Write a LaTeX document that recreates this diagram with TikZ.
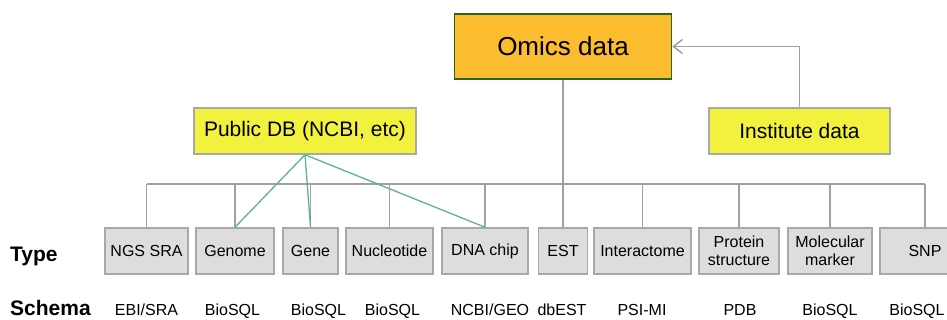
\documentclass[tikz,border=0pt]{standalone}
\usepackage{fontspec}
\setmainfont{Liberation Sans}
\usetikzlibrary{
  arrows.meta
  }

\definecolor{omicsfill}{HTML}{FBBC30}
\definecolor{omicsline}{HTML}{1E6B1E}
\definecolor{dbfill}{HTML}{F2F23E}
\definecolor{boxfill}{HTML}{DDDDDD}
\definecolor{boxline}{HTML}{A8A8A8}
\definecolor{wire}{HTML}{A0A0A0}
\definecolor{link}{HTML}{5DB391}

\begin{document}
\begin{tikzpicture}[x=1pt, y=-1pt]
  \tikzstyle{every node}=[font=\fontsize{16}{18}\selectfont, inner sep=2pt]
  \tikzstyle{typebox}=[draw=boxline, fill=boxfill, line width=1.5pt,
    minimum height=46pt, align=center]
  \tikzstyle{srcbox}=[draw=boxline, fill=dbfill, line width=1.5pt,
    minimum height=46pt, font=\fontsize{21}{24}\selectfont]
  \tikzstyle{wireline}=[draw=wire, line width=1.5pt]
  \useasboundingbox (0,0) rectangle (947,320);
  %
  \node[draw=omicsline, fill=omicsfill, line width=1.5pt, minimum width=217pt,
    minimum height=65pt, font=\fontsize{26}{30}\selectfont] (omics) at (563,46.5) {Omics data};
  \node[srcbox, minimum width=222pt] (public) at (305,131) {Public DB (NCBI, etc)};
  \node[srcbox, minimum width=181pt] (inst) at (799.5,131) {Institute data};
  %
  \coordinate (bus) at (0,184);
  % type boxes with their schema underneath
  \foreach \n/\cx/\w/\txt/\sx/\sch in {
      ngs/146.5/83/{NGS SRA}/146.5/EBI\slash SRA,
      genome/235/78/Genome/232.5/BioSQL,
      gene/310.5/55/Gene/318.5/BioSQL,
      nucl/389.5/87/Nucleotide/392.5/BioSQL,
      chip/485/86/{DNA chip}/490/NCBI\slash GEO,
      est/563/49/EST/562/dbEST,
      inter/642.5/97/Interactome/642/PSI-MI,
      prot/739/80/{Protein\\structure}/740/PDB,
      marker/830/84/{Molecular\\marker}/830/BioSQL,
      snp/925/90/SNP/917/BioSQL}{
    \node[typebox, minimum width=\w pt] (\n) at (\cx,251) {\txt};
    \node[anchor=base] (\n-schema) at (\sx,315) {\sch};
    \draw[wireline] (\n.north) -- (\n.north |- bus);
  }
  \draw[wireline] (ngs.north |- bus) -- (snp.north |- bus);
  \draw[wireline] (omics.south) -- (est.north);
  \draw[wireline, -{Straight Barb[length=9pt, width=14pt]}] (inst.north) |- (omics.east);
  %
  \foreach \t in {genome, gene, chip}
    \draw[link, line width=1.3pt] (public.south) -- (\t.north);
  %
  \node[anchor=west, font=\fontsize{21}{24}\selectfont\bfseries] (type) at (8,256) {Type};
  \node[anchor=base west, font=\fontsize{21}{24}\selectfont\bfseries] (schema) at (8,315) {Schema};
\end{tikzpicture}
\end{document}
